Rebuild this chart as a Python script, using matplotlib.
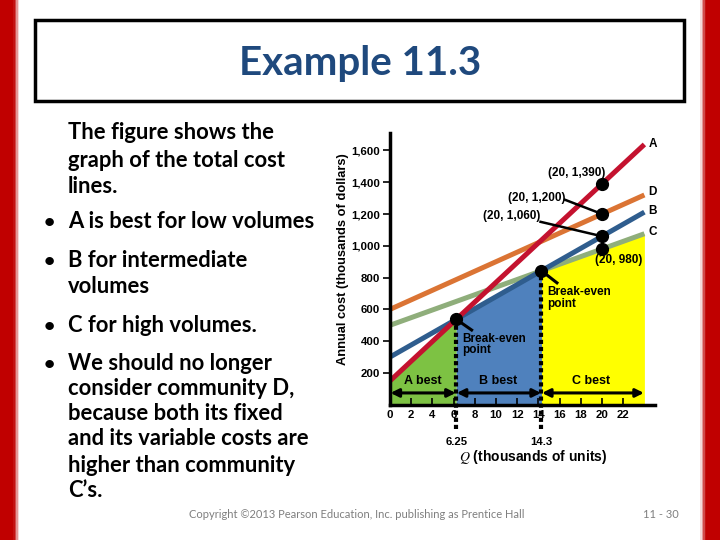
import numpy as np
import matplotlib.pyplot as plt
from matplotlib.patches import Rectangle

plt.rcParams['mathtext.fontset'] = 'stix'

# costs of the four communities (thousands of dollars, Q in thousands of units)
names = ['A', 'B', 'C', 'D']
fixed = [150, 300, 500, 600]
variable = [62, 38, 24, 30]
line_colors = ['#C4122F', '#2F5D8E', '#8FAE7B', '#DB7434']
q_max = 24

be1 = 6.25   # A/B break-even
be2 = 14.29  # B/C break-even

point_q = [20, 20, 20, 20]
point_v = [1390, 1200, 1060, 980]

yticks = [200, 400, 600, 800, 1000, 1200, 1400, 1600]
ylabels = ['200', '400', '600', '800', '1,000', '1,200', '1,400', '1,600']
xticks = [0, 2, 4, 6, 8, 10, 12, 14, 16, 18, 20, 22]

W, H = 720, 540
fig = plt.figure(figsize=(7.2, 5.4), dpi=100)

def fx(x):
    return x / W

def fy(y):
    return 1 - y / H

# red side bands of the slide
for i, a in enumerate([1.0, 0.75, 0.5, 0.3, 0.15]):
    fig.patches.append(Rectangle((0, 0), fx(13 + 1.5 * i), 1, transform=fig.transFigure,
                                 color='#C00000', alpha=a if i else 1, lw=0, zorder=0))
    fig.patches.append(Rectangle((fx(706 - 1.5 * i), 0), fx(14 + 1.5 * i), 1, transform=fig.transFigure,
                                 color='#C00000', alpha=a if i else 1, lw=0, zorder=0))

# title box
fig.patches.append(Rectangle((fx(35), fy(101)), fx(684 - 35), fy(20) - fy(101), transform=fig.transFigure,
                             fill=False, ec='black', lw=2.5))
fig.text(fx(360), fy(64), 'Example 11.3', ha='center', va='center', fontsize=29,
         family='Lato', weight='bold', color='#1F497D')

# left text
lines = [
    (139, False, 'The figure shows the'),
    (167, False, 'graph of the total cost'),
    (193, False, 'lines.'),
    (228, True, 'A is best for low volumes'),
    (267, True, 'B for intermediate'),
    (293, False, 'volumes'),
    (332, True, 'C for high volumes.'),
    (370, True, 'We should no longer'),
    (395, False, 'consider community D,'),
    (420, False, 'because both its fixed'),
    (445, False, 'and its variable costs are'),
    (472, False, 'higher than community'),
    (497, False, 'C\u2019s.'),
]
for y, bullet, s in lines:
    fig.text(fx(68), fy(y), s, ha='left', va='baseline', fontsize=15.8,
             family='Lato', weight='bold', color='black')
    if bullet:
        fig.text(fx(44), fy(y), '\u2022', ha='left', va='baseline', fontsize=14,
                 family='Lato', weight='bold', color='black')

# footer
fig.text(fx(357), fy(515), 'Copyright \u00a92013 Pearson Education, Inc. publishing as Prentice Hall',
         ha='center', va='center', fontsize=8, family='Lato', color='#7F7F7F')
fig.text(fx(661), fy(515), '11 - 30', ha='center', va='center', fontsize=8,
         family='Lato', color='#7F7F7F')

# chart
ax = fig.add_axes([fx(390), fy(404.7), fx(655 - 390), fy(133) - fy(404.7)])
ax.set_xlim(0, 25)
ax.set_ylim(0, 1710)

q = np.array([0, q_max])
cost = {n: f + v * q for n, f, v in zip(names, fixed, variable)}

def tc(n, x):
    i = names.index(n)
    return fixed[i] + variable[i] * np.asarray(x)

qa = np.array([0, be1])
qb = np.array([be1, be2])
qc = np.array([be2, q_max])
ax.fill_between(qa, 0, tc('A', qa), color='#7DC243', lw=0, zorder=1)
ax.fill_between(qb, 0, tc('B', qb), color='#4F81BD', lw=0, zorder=1)
ax.fill_between(qc, 0, tc('C', qc), color='#FFFF00', lw=0, zorder=1)

for n in ['D', 'C', 'B', 'A']:
    i = names.index(n)
    ax.plot(q, cost[n], color=line_colors[i], lw=3.6, solid_capstyle='butt', zorder=2)

lbl_font = dict(family='Liberation Sans', weight='bold', fontsize=8.5)
ax.text(24.4, 1640, 'A', ha='left', va='center', **lbl_font)
ax.text(24.4, 1340, 'D', ha='left', va='center', **lbl_font)
ax.text(24.4, 1220, 'B', ha='left', va='center', **lbl_font)
ax.text(24.4, 1088, 'C', ha='left', va='center', **lbl_font)

# dotted break-even verticals
for b in [be1, be2]:
    ax.plot([b, b], [-150, tc('B', b)], color='black', lw=3, ls=(0, (1, 0.7)),
            clip_on=False, zorder=5)

# points and leader lines
ax.plot(point_q, point_v, 'o', color='black', ms=8.5, zorder=6)
ax.plot([be1, be2], [tc('A', be1), tc('B', be2)], 'o', color='black', ms=8.5, zorder=6)
ax.plot([16.5, 20], [1290, 1200], color='black', lw=1.8, zorder=5)
ax.plot([14.2, 20], [1151, 1060], color='black', lw=1.8, zorder=5)
ax.plot([be2, 15.75], [tc('B', be2), 767], color='black', lw=2.2, zorder=5)
ax.plot([be1, 7.7], [tc('A', be1), 470], color='black', lw=2.2, zorder=5)

ax.text(17.6, 1460, '(20, 1,390)', ha='center', va='center', **lbl_font)
ax.text(16.6, 1300, '(20, 1,200)', ha='right', va='center', **lbl_font)
ax.text(14.2, 1185, '(20, 1,060)', ha='right', va='center', **lbl_font)
ax.text(21.6, 912, '(20, 980)', ha='center', va='center', **lbl_font)
ax.text(14.8, 745, 'Break-even\npoint', ha='left', va='top', linespacing=0.95, **lbl_font)
ax.text(6.8, 452, 'Break-even\npoint', ha='left', va='top', linespacing=0.95, **lbl_font)

# best ranges
for a, b, s, xm in [(0, be1, 'A best', 3.1), (be1, be2, 'B best', 10.2), (be2, q_max, 'C best', 19.0)]:
    ax.annotate('', xy=(a + 0.05, 74), xytext=(b - 0.05, 74),
                arrowprops=dict(arrowstyle='<|-|>', color='black', lw=2.2, mutation_scale=12,
                                shrinkA=0, shrinkB=0), zorder=4)
    ax.text(xm, 150, s, ha='center', va='center', family='Liberation Sans', weight='bold', fontsize=9)

for s in ['top', 'right']:
    ax.spines[s].set_visible(False)
for s in ['left', 'bottom']:
    ax.spines[s].set_linewidth(2.5)

ax.set_yticks(yticks)
ax.set_yticklabels(ylabels)
ax.set_xticks(xticks)
ax.set_xticks([be1, be2], minor=True)
ax.set_xticklabels(['6.25', '14.3'], minor=True)
ax.tick_params(axis='y', direction='out', length=5, width=1.2, pad=2)
ax.tick_params(axis='x', which='major', direction='in', length=5, width=1.2, pad=4)
ax.tick_params(axis='x', which='minor', length=0, pad=23)
for t in ax.get_xticklabels(which='both') + ax.get_yticklabels():
    t.set_family('Liberation Sans')
    t.set_weight('bold')
    t.set_fontsize(8.2)

ax.set_ylabel('Annual cost (thousands of dollars)', family='Liberation Sans', weight='bold', fontsize=9.3)
ax.yaxis.set_label_coords(-0.155, 0.536)
ax.set_xlabel(r'$\mathit{Q}$ (thousands of units)', family='Liberation Sans', weight='bold', fontsize=10)
ax.xaxis.set_label_coords(0.54, -0.16)

fig.savefig('out.png', dpi=100)
